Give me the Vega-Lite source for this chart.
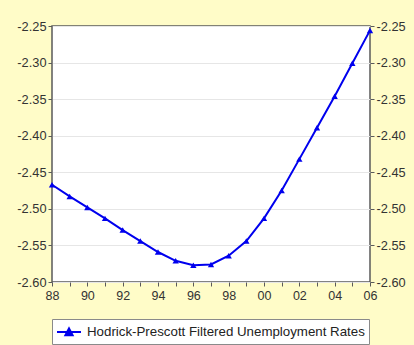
{
  "$schema": "https://vega.github.io/schema/vega-lite/v6.json",
  "width": 318,
  "height": 256,
  "autosize": "none",
  "padding": {"left": 52, "top": 26, "right": 44, "bottom": 63},
  "background": "#FFFCC8",
  "config": {
    "locale": {"number": {"decimal": ".", "thousands": ",", "grouping": [3], "currency": ["$", ""], "minus": "-"}},
    "font": "Liberation Sans",
    "view": {"stroke": "#5a5a5a", "strokeWidth": 1.5, "fill": "white"},
    "axis": {
      "labelFont": "Liberation Sans",
      "labelFontSize": 12.8,
      "labelColor": "#333333",
      "tickColor": "#5a5a5a",
      "domain": false,
      "title": null
    }
  },
  "data": {
    "values": [
      {"year": 1988, "rate": -2.467},
      {"year": 1989, "rate": -2.483},
      {"year": 1990, "rate": -2.498},
      {"year": 1991, "rate": -2.513},
      {"year": 1992, "rate": -2.529},
      {"year": 1993, "rate": -2.544},
      {"year": 1994, "rate": -2.559},
      {"year": 1995, "rate": -2.571},
      {"year": 1996, "rate": -2.577},
      {"year": 1997, "rate": -2.576},
      {"year": 1998, "rate": -2.564},
      {"year": 1999, "rate": -2.544},
      {"year": 2000, "rate": -2.513},
      {"year": 2001, "rate": -2.475},
      {"year": 2002, "rate": -2.432},
      {"year": 2003, "rate": -2.389},
      {"year": 2004, "rate": -2.346},
      {"year": 2005, "rate": -2.301},
      {"year": 2006, "rate": -2.256}
    ]
  },
  "encoding": {
    "x": {
      "field": "year",
      "type": "quantitative",
      "scale": {"domain": [1988, 2006], "nice": false, "zero": false},
      "axis": {
        "values": [1988, 1989, 1990, 1991, 1992, 1993, 1994, 1995, 1996, 1997, 1998, 1999, 2000, 2001, 2002, 2003, 2004, 2005, 2006],
        "labelExpr": "datum.value % 2 == 0 ? slice(toString(datum.value), 2) : ''",
        "labelFontSize": 12.5,
        "grid": false,
        "tickSize": 4,
        "labelPadding": 3,
        "labelFlush": false
      }
    }
  },
  "layer": [
    {
      "mark": {
        "type": "line",
        "strokeWidth": 2,
        "point": {"shape": "triangle-up", "filled": true, "size": 40, "color": "#0000EE"}
      },
      "encoding": {
        "y": {
          "field": "rate",
          "type": "quantitative",
          "scale": {"domain": [-2.6, -2.25], "nice": false, "zero": false},
          "axis": {
            "orient": "left",
            "values": [-2.6, -2.55, -2.5, -2.45, -2.4, -2.35, -2.3, -2.25],
            "format": ".2f",
            "grid": true,
            "gridColor": "#e6e6e6",
            "tickSize": 4,
            "labelPadding": 2
          }
        },
        "color": {
          "datum": "Hodrick-Prescott Filtered Unemployment Rates",
          "scale": {"range": ["#0000EE"]},
          "legend": {
            "title": null,
            "orient": "none",
            "legendX": 0,
            "legendY": 293,
            "fillColor": "white",
            "strokeColor": "#8a8a8a",
            "padding": 4,
            "labelFont": "Liberation Sans",
            "labelFontSize": 13.3,
            "labelLimit": 400,
            "labelColor": "#222222",
            "labelOffset": 13,
            "symbolType": "M-1,0H2M0.05,0.4L0.5,-0.45L0.95,0.4Z",
            "symbolSize": 256,
            "symbolStrokeWidth": 2,
            "symbolFillColor": "#0000EE",
            "symbolStrokeColor": "#0000EE"
          }
        }
      }
    },
    {
      "mark": {"type": "line", "opacity": 0},
      "encoding": {
        "y": {
          "field": "rate",
          "type": "quantitative",
          "scale": {"domain": [-2.6, -2.25], "nice": false, "zero": false},
          "axis": {
            "orient": "right",
            "values": [-2.6, -2.55, -2.5, -2.45, -2.4, -2.35, -2.3, -2.25],
            "format": ".2f",
            "grid": false,
            "tickSize": 4,
            "labelPadding": 2
          }
        }
      }
    }
  ],
  "resolve": {"scale": {"y": "independent"}, "axis": {"y": "independent"}}
}
